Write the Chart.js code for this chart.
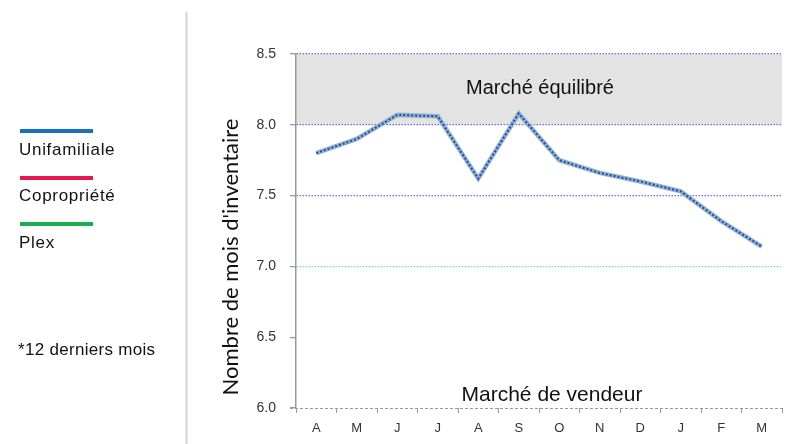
<!DOCTYPE html>
<html><head><meta charset="utf-8">
<script src="https://cdn.jsdelivr.net/npm/chart.js@4.4.0/dist/chart.umd.min.js"></script>
<style>
html,body{margin:0;padding:0;background:#fff;}
#wrap{position:relative;width:798px;height:444px;overflow:hidden;font-family:"Liberation Sans",Arial,sans-serif;}
#c{position:absolute;left:0;top:0;}
.divider{position:absolute;left:185px;top:12px;width:3px;height:440px;background:linear-gradient(to right,#f4f4f4,#d8d8d8,#eeeeee);}
.lg-line{position:absolute;left:20px;width:73px;height:4px;}
.lg-text{position:absolute;left:19px;font-size:17px;color:#111;letter-spacing:0.7px;}
.note{position:absolute;left:18px;top:340px;font-size:17px;color:#111;letter-spacing:0.3px;}
</style></head>
<body>
<div id="wrap">
<canvas id="c" width="798" height="444"></canvas>
<div class="divider"></div>
<div class="lg-line" style="top:129px;background:#1a6fc4"></div>
<div class="lg-text" style="top:140px">Unifamiliale</div>
<div class="lg-line" style="top:176px;background:#e8174f"></div>
<div class="lg-text" style="top:186px">Copropriété</div>
<div class="lg-line" style="top:222px;background:#1aad4f"></div>
<div class="lg-text" style="top:233px">Plex</div>
<div class="note">*12 derniers mois</div>
</div>
<script>
const months = ["A","M","J","J","A","S","O","N","D","J","F","M"];
const inventoryMonths = [7.80, 7.90, 8.07, 8.06, 7.62, 8.08, 7.75, 7.66, 7.60, 7.53, 7.32, 7.14];
const yTicks = [6.0, 6.5, 7.0, 7.5, 8.0, 8.5];
const balancedBand = [8.0, 8.5];
const zoneLabels = ["Marché équilibré", "Marché de vendeur"];
const yTitle = "Nombre de mois d'inventaire";

const bandPlugin = {
  id: 'band',
  beforeDraw(chart) {
    const {ctx, chartArea, scales} = chart;
    const y = scales.y;
    const top = y.getPixelForValue(balancedBand[1]);
    const bot = y.getPixelForValue(balancedBand[0]);
    ctx.save();
    ctx.fillStyle = '#e3e3e3';
    ctx.fillRect(chartArea.left, top, chartArea.right - chartArea.left, bot - top);
    ctx.restore();
  },
  afterDraw(chart) {
    const {ctx, chartArea, scales} = chart;
    const y = scales.y;
    const cx = (chartArea.left + chartArea.right) / 2;
    ctx.save();
    // dashed bottom axis line
    const yb = Math.round(y.getPixelForValue(yTicks[0])) + 0.5;
    ctx.strokeStyle = '#9a9a9a';
    ctx.lineWidth = 1;
    ctx.setLineDash([3, 2]);
    ctx.beginPath();
    ctx.moveTo(chartArea.left - 6, yb);
    ctx.lineTo(chartArea.right, yb);
    ctx.stroke();
    ctx.setLineDash([]);
    // zone labels
    ctx.fillStyle = '#111';
    ctx.textAlign = 'center';
    ctx.textBaseline = 'middle';
    ctx.font = '20px "Liberation Sans", Arial, sans-serif';
    ctx.fillText(zoneLabels[0], cx + 1, (y.getPixelForValue(balancedBand[0]) + y.getPixelForValue(balancedBand[1])) / 2 - 1);
    ctx.font = '21px "Liberation Sans", Arial, sans-serif';
    ctx.fillText(zoneLabels[1], cx + 13, y.getPixelForValue(yTicks[0]) - 13);
    // y title
    ctx.save();
    ctx.translate(231, 257);
    ctx.rotate(-Math.PI / 2);
    ctx.font = '22px Lato, "Liberation Sans", sans-serif';
    ctx.fillText(yTitle, 0, 0);
    ctx.restore();
    ctx.restore();
  }
};

new Chart(document.getElementById('c'), {
  type: 'line',
  data: {
    labels: months,
    datasets: [
      { label: 'Unifamiliale', data: inventoryMonths, borderColor: '#2a3fd0', borderWidth: 2, borderDash: [2, 2], pointRadius: 0, tension: 0, fill: false, order: 1 },
      { label: 'halo', data: inventoryMonths, borderColor: '#8fb6bf', borderWidth: 4.5, pointRadius: 0, tension: 0, fill: false, order: 2 }
    ]
  },
  options: {
    responsive: false,
    animation: false,
    devicePixelRatio: 1,
    layout: { padding: { left: 190, right: 16, top: 54, bottom: 0 } },
    plugins: { legend: { display: false }, tooltip: { enabled: false } },
    scales: {
      x: {
        offset: true,
        afterFit(s) { s.height = 36; },
        border: { display: false },
        grid: { offset: true, drawOnChartArea: false, drawTicks: true, tickLength: 5, tickColor: '#9a9a9a' },
        ticks: { color: '#333', font: { family: '"Liberation Sans", Arial, sans-serif', size: 13 }, padding: 8, maxRotation: 0, autoSkip: false }
      },
      y: {
        min: 6.0, max: 8.5,
        afterFit(s) { s.width = 106; },
        afterBuildTicks(s) { s.ticks = yTicks.map(v => ({ value: v })); },
        border: { display: true, color: '#9a9a9a', width: 1.5, dash: [1.5, 1.5] },
        grid: {
          drawTicks: true, tickLength: 6, tickColor: '#9a9a9a',
          color(ctx) {
            const v = ctx.tick && ctx.tick.value;
            if (v === 8.5 || v === 8.0 || v === 7.5) return '#6f6fe0';
            if (v === 7.0) return '#74d4e4';
            return 'rgba(0,0,0,0)';
          },
          lineWidth: 1.3
        },
        ticks: {
          color: '#333', padding: 14,
          font: { family: '"Liberation Sans", Arial, sans-serif', size: 14 },
          callback(v) { return Number(v).toFixed(1); }
        },
        title: { display: false }
      }
    }
  },
  plugins: [bandPlugin]
});
</script>
</body></html>
